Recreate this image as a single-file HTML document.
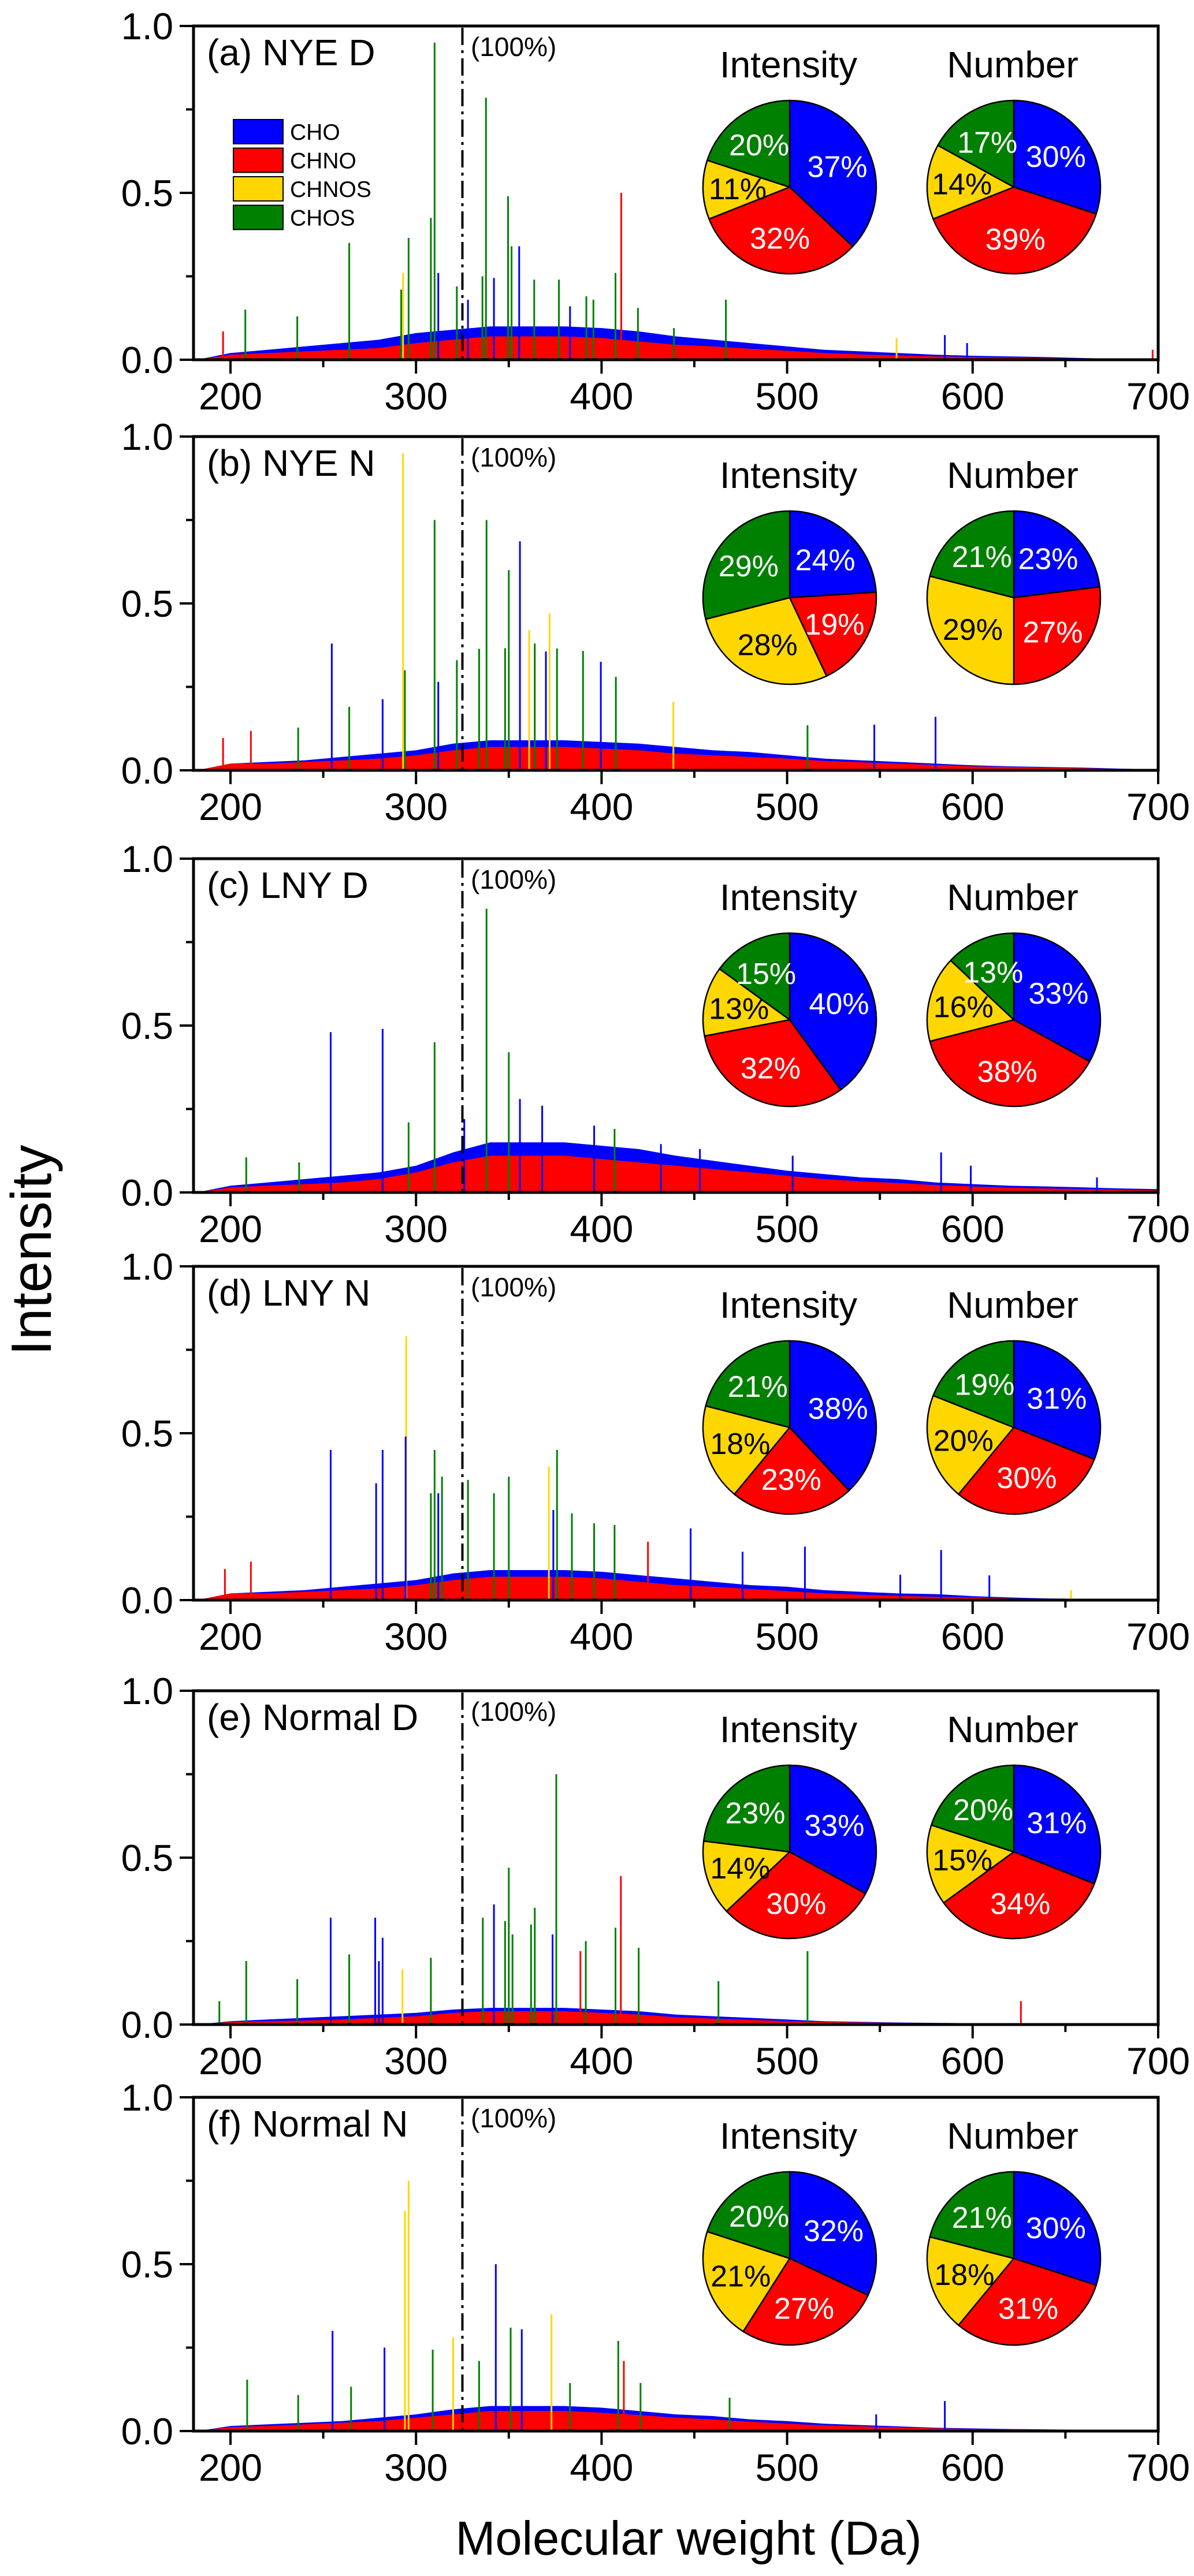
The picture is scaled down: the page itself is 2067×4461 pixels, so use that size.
<!DOCTYPE html>
<html><head><meta charset="utf-8"><title>FT-ICR MS spectra</title>
<style>
html,body{margin:0;padding:0;background:#fff;}
svg{display:block;font-family:"Liberation Sans",Arial,sans-serif;}
</style></head>
<body>
<svg id="chart" width="2067" height="4461" viewBox="0 0 2067 4461" xmlns="http://www.w3.org/2000/svg">
<rect x="0" y="0" width="2067" height="4461" fill="#fff"/>
<text x="0" y="0" transform="translate(88,2165) rotate(-90)" text-anchor="middle" font-size="98">Intensity</text>
<text x="1192" y="4424" text-anchor="middle" font-size="83">Molecular weight (Da)</text>
</svg>
<script>
// ---- data ----
const panelLabels = ["(a) NYE D","(b) NYE N","(c) LNY D","(d) LNY N","(e) Normal D","(f) Normal N"];
const classNames = ["CHO","CHNO","CHNOS","CHOS"];
const xTicks = [200,300,400,500,600,700];
const xMinorTicks = [250,350,450,550,650];
const yTicks = [0,0.5,1.0];
const yTickLabels = ["0.0","0.5","1.0"];
const yMinorTicks = [0.25,0.75];
const intensityPct = [[37,32,11,20],[24,19,28,29],[40,32,13,15],[38,23,18,21],[33,30,14,23],[32,27,21,20]];
const numberPct = [[30,39,14,17],[23,27,29,21],[33,38,16,13],[31,30,20,19],[31,34,15,20],[30,31,18,21]];
// envelope of dense background peaks, sampled every 20 Da from 180 to 700
const envMz = [180,200,220,240,260,280,300,320,340,360,380,400,420,440,460,480,500,520,540,560,580,600,620,640,660,680,700];
const envBlue = [
 [0,0.02,0.03,0.04,0.05,0.06,0.08,0.09,0.10,0.10,0.10,0.095,0.085,0.07,0.06,0.05,0.04,0.03,0.025,0.02,0.015,0.012,0.01,0.008,0.005,0.003,0.002],
 [0,0.02,0.025,0.03,0.04,0.05,0.06,0.08,0.09,0.09,0.09,0.085,0.08,0.07,0.06,0.055,0.045,0.035,0.03,0.025,0.02,0.015,0.012,0.01,0.008,0.005,0.003],
 [0,0.02,0.03,0.04,0.05,0.06,0.08,0.12,0.15,0.15,0.15,0.14,0.13,0.11,0.095,0.08,0.065,0.055,0.045,0.04,0.03,0.025,0.02,0.018,0.015,0.012,0.01],
 [0,0.02,0.025,0.03,0.04,0.05,0.06,0.08,0.09,0.09,0.09,0.085,0.075,0.065,0.055,0.045,0.04,0.03,0.025,0.02,0.018,0.012,0.008,0.005,0.004,0.003,0.002],
 [0,0.01,0.015,0.02,0.025,0.03,0.035,0.045,0.05,0.05,0.05,0.045,0.04,0.03,0.025,0.02,0.015,0.01,0.008,0.006,0.005,0.004,0.003,0.002,0.002,0.001,0.001],
 [0,0.015,0.02,0.025,0.03,0.04,0.05,0.065,0.075,0.075,0.075,0.07,0.06,0.05,0.045,0.035,0.03,0.022,0.018,0.014,0.01,0.008,0.006,0.005,0.004,0.003,0.002]
];
const envRed = [
 [0,0.015,0.02,0.025,0.03,0.035,0.05,0.06,0.07,0.07,0.07,0.065,0.055,0.045,0.04,0.033,0.027,0.02,0.016,0.013,0.01,0.008,0.006,0.005,0.004,0.003,0.002],
 [0,0.02,0.02,0.025,0.03,0.035,0.045,0.06,0.07,0.07,0.07,0.065,0.06,0.05,0.045,0.04,0.035,0.028,0.024,0.02,0.016,0.012,0.01,0.008,0.006,0.004,0.003],
 [0,0.015,0.02,0.025,0.03,0.04,0.06,0.09,0.11,0.11,0.11,0.10,0.09,0.08,0.07,0.06,0.05,0.04,0.033,0.028,0.022,0.018,0.014,0.012,0.01,0.008,0.006],
 [0,0.02,0.02,0.025,0.03,0.035,0.045,0.06,0.07,0.07,0.07,0.065,0.055,0.045,0.04,0.033,0.027,0.02,0.016,0.013,0.01,0.008,0.005,0.004,0.003,0.002,0.002],
 [0,0.008,0.01,0.012,0.015,0.02,0.025,0.035,0.04,0.04,0.04,0.035,0.03,0.022,0.018,0.014,0.01,0.008,0.006,0.005,0.004,0.003,0.002,0.002,0.001,0.001,0.001],
 [0,0.012,0.015,0.02,0.025,0.03,0.04,0.05,0.06,0.06,0.06,0.055,0.048,0.04,0.035,0.028,0.022,0.017,0.014,0.011,0.008,0.006,0.005,0.004,0.003,0.002,0.002]
];
// prominent peaks: m/z, relative intensity, class index (0 CHO,1 CHNO,2 CHNOS,3 CHOS)
const peakMz = [
 [310,337.7,349.6,351.5,355.6,312,308,296,292,293,264,410.6,407.5,467,377,363.7,342,335.8,322,328,391.8,395.6,208,236,419.6,439,196,383,559,585,597,697],
 [293,310,338,356,350,372,361,254.6,364,348,334,376,390,370,399.6,294,322,407.7,312,282,264,438.7,511,547,211,196,236.5,580],
 [338,254,282,310,350,356,368,296,326,396,407,583,503,599,208.5,237,453,432,667],
 [294.7,294.4,254,282,310,376,371.6,278.5,314,328,350,342,312,308,374,384,448,396,407,425,509.6,583,476,211,197,561,609,653],
 [375.6,410.4,350,254,278,282,280,342,336,364,362,348,373.6,352,391.5,407.5,420,388.6,511,308,264,208.5,236,463,292.7,626,194],
 [296,294,343,255,283,351,357,373,409,309,320,412,421,209,265,236.5,469,585,548,334,383]
];
const peakVal = [
 [0.95,0.785,0.49,0.34,0.34,0.26,0.425,0.365,0.21,0.26,0.35,0.5,0.26,0.18,0.24,0.24,0.245,0.25,0.22,0.18,0.19,0.18,0.15,0.13,0.155,0.095,0.085,0.16,0.065,0.074,0.05,0.03],
 [0.95,0.75,0.75,0.686,0.60,0.47,0.42,0.38,0.38,0.366,0.364,0.365,0.358,0.356,0.325,0.30,0.33,0.28,0.265,0.213,0.19,0.205,0.135,0.137,0.118,0.097,0.128,0.16],
 [0.85,0.48,0.49,0.45,0.42,0.28,0.26,0.21,0.22,0.2,0.19,0.12,0.11,0.08,0.105,0.09,0.13,0.145,0.045],
 [0.79,0.49,0.45,0.45,0.45,0.45,0.40,0.35,0.37,0.36,0.37,0.32,0.32,0.32,0.27,0.26,0.215,0.23,0.225,0.175,0.16,0.15,0.145,0.115,0.093,0.076,0.074,0.03],
 [0.75,0.445,0.47,0.32,0.32,0.26,0.19,0.36,0.32,0.35,0.30,0.31,0.27,0.27,0.25,0.29,0.23,0.22,0.22,0.20,0.21,0.19,0.136,0.13,0.165,0.07,0.07],
 [0.75,0.66,0.50,0.30,0.25,0.31,0.305,0.35,0.27,0.244,0.28,0.21,0.144,0.154,0.133,0.108,0.10,0.09,0.05,0.21,0.144]
];
const peakCls = [
 [3,3,3,3,0,0,3,3,3,2,3,1,3,3,3,3,0,3,3,0,3,3,3,3,3,3,1,0,2,0,0,1],
 [2,3,3,0,3,2,2,0,3,3,3,3,3,0,0,3,3,3,0,0,3,2,3,0,1,1,3,0],
 [3,0,0,3,3,0,0,3,0,0,3,0,0,0,3,3,0,0,0],
 [2,0,0,0,3,3,2,0,3,3,3,3,0,3,0,3,0,3,3,1,0,0,0,1,1,0,0,2],
 [3,1,3,0,0,0,0,0,3,3,3,3,0,3,3,3,3,1,3,3,3,3,3,3,2,1,3],
 [2,2,0,0,0,3,0,2,3,3,2,1,3,3,3,3,3,0,0,3,3]
];

// ---- layout ----
const NS = "http://www.w3.org/2000/svg";
const svg = document.getElementById("chart");
const colors = ["#0000ff","#ff0000","#ffd700","#008000"];
const panelTops = [45,756,1487,2193,2928,3632];
const plotH = 578, plotL = 335, plotR = 2005;
function xScale(mz){ return 399 + (mz-200)*3.212; }
function yScale(v, top){ return top + plotH - v*plotH; }
function mk(tag, attrs, parent){
  const e = document.createElementNS(NS, tag);
  for (const k in attrs) e.setAttribute(k, attrs[k]);
  (parent||svg).appendChild(e);
  return e;
}

panelTops.forEach((top, p) => {
  const g = mk("g", {});
  
  
  const zero = top + plotH;
  // envelopes
  [[envBlue[p],0],[envRed[p],1]].forEach(([vals,c]) => {
    let d = "M" + xScale(envMz[0]) + "," + zero;
    envMz.forEach((m,i) => { d += " L" + xScale(Math.max(m,182)).toFixed(1) + "," + yScale(vals[i],top).toFixed(1); });
    d += " L" + xScale(envMz[envMz.length-1]) + "," + zero + " Z";
    const a = mk("path", {d:d, fill:colors[c]}, g);
    
    
  });
  // peaks
  peakMz[p].forEach((m,i) => {
    const x = xScale(m);
    const l = mk("line", {x1:x, x2:x, y1:zero, y2:yScale(peakVal[p][i],top), stroke:colors[peakCls[p][i]], "stroke-width":3}, g);
    
    
  });
  // dash-dot line at 325 Da
  const dl = mk("line", {x1:xScale(325), x2:xScale(325), y1:top+3, y2:zero, stroke:"#000", "stroke-width":4, "stroke-dasharray":"30 9 5 9"}, g);
  
  
  const t100 = mk("text", {x:815, y:top+52, "font-size":46}, g);
  t100.textContent = "(100%)";
  
  
  // frame
  const fr = mk("rect", {x:plotL, y:top, width:plotR-plotL, height:plotH, fill:"none", stroke:"#000", "stroke-width":5}, g);
  
  
  // y ticks
  yTicks.forEach((v,i) => {
    const y = yScale(v,top);
    const tk = mk("line", {x1:plotL-24, x2:plotL, y1:y, y2:y, stroke:"#000", "stroke-width":4}, g);
    
    
    const tl = mk("text", {x:300, y:y+23, "text-anchor":"end", "font-size":65}, g);
    tl.textContent = yTickLabels[i];
    
    
  });
  yMinorTicks.forEach(v => {
    const y = yScale(v,top);
    const tk = mk("line", {x1:plotL-13, x2:plotL, y1:y, y2:y, stroke:"#000", "stroke-width":4}, g);
    
    
  });
  // x ticks
  xTicks.forEach(m => {
    const x = xScale(m);
    const tk = mk("line", {x1:x, x2:x, y1:zero, y2:zero+24, stroke:"#000", "stroke-width":4}, g);
    
    
    const tl = mk("text", {x:x, y:zero+86, "text-anchor":"middle", "font-size":66}, g);
    tl.textContent = String(m);
    
    
  });
  xMinorTicks.forEach(m => {
    const x = xScale(m);
    const tk = mk("line", {x1:x, x2:x, y1:zero, y2:zero+13, stroke:"#000", "stroke-width":4}, g);
    
    
  });
  // panel label
  const pl = mk("text", {x:358, y:top+68, "font-size":64}, g);
  pl.textContent = panelLabels[p];
  
  
  // pies
  [[intensityPct[p],1367,"Intensity"],[numberPct[p],1755,"Number"]].forEach(([pct,cx,title]) => {
    const cy = top + 279, r = 150;
    const tt = mk("text", {x:cx-2, y:top+89, "text-anchor":"middle", "font-size":64}, g);
    tt.textContent = title;
    
    
    let total = pct.reduce((s,v)=>s+v,0), acc = 0;
    pct.forEach((v,i) => {
      const a0 = acc/total*2*Math.PI, a1 = (acc+v)/total*2*Math.PI;
      acc += v;
      const x0 = cx + r*Math.sin(a0), y0 = cy - r*Math.cos(a0);
      const x1 = cx + r*Math.sin(a1), y1 = cy - r*Math.cos(a1);
      const large = (a1-a0) > Math.PI ? 1 : 0;
      const sl = mk("path", {d:`M${cx},${cy} L${x0.toFixed(1)},${y0.toFixed(1)} A${r},${r} 0 ${large} 1 ${x1.toFixed(1)},${y1.toFixed(1)} Z`, fill:colors[i], stroke:"#000", "stroke-width":2.5}, g);
      
      
      const am = (a0+a1)/2, rr = r*0.6;
      const lt = mk("text", {x:(cx+rr*Math.sin(am)).toFixed(1), y:(cy-rr*Math.cos(am)+18).toFixed(1), "text-anchor":"middle", "font-size":52, fill: i===2 ? "#000" : "#fff"}, g);
      lt.textContent = v + "%";
      
      
    });
  });
});

// legend (panel a)
const lg = mk("g", {});


classNames.forEach((n,i) => {
  const y = 207 + i*49.5;
  const b = mk("rect", {x:404, y:y, width:86, height:42, fill:colors[i], stroke:"#000", "stroke-width":2}, lg);
  
  
  const t = mk("text", {x:502, y:y+35, "font-size":39}, lg);
  t.textContent = n;
  
  
});
</script>
</body></html>
